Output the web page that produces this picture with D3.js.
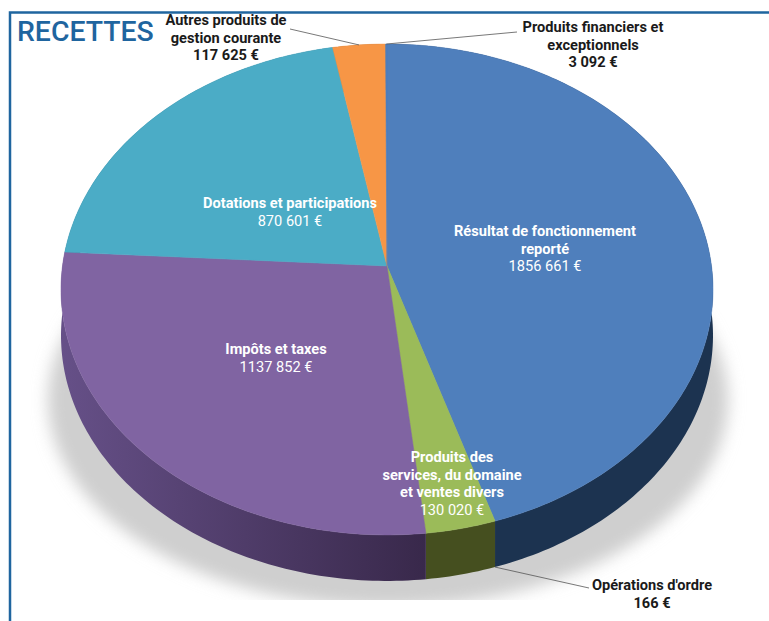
<!DOCTYPE html>
<html>
<head>
<meta charset="utf-8">
<script src="https://d3js.org/d3.v7.min.js"></script>
<style>
  html, body { margin: 0; padding: 0; background: #fff; }
  svg { display: block; }
  text { font-family: Roboto, sans-serif; }
</style>
</head>
<body>
<svg id="svg" width="769" height="621"></svg>
<script>
// --- DATA ---
const categories = ["Résultat de fonctionnement reporté", "Produits des services, du domaine et ventes divers", "Opérations d'ordre", "Impôts et taxes", "Dotations et participations", "Autres produits de gestion courante", "Produits financiers et exceptionnels"];
const values = [1856661, 130020, 166, 1137852, 870601, 117625, 3092];
const valueLabels = ["1856 661 €", "130 020 €", "166 €", "1137 852 €", "870 601 €", "117 625 €", "3 092 €"];
const topColors = ["#4f7fbc", "#9bbb59", "#9bbb59", "#8064a2", "#4bacc6", "#f79646", "#4f7fbc"];
const sideColors = ["#1c3350", "#454f1f", "#454f1f", "url(#side-purple)", "#2c6a7c", "#a05f28", "#1c3350"];
const labelLines = [
  ["Résultat de fonctionnement", "reporté"],
  ["Produits des", "services, du domaine", "et ventes divers"],
  ["Opérations d'ordre"],
  ["Impôts et taxes"],
  ["Dotations et participations"],
  ["Autres produits de", "gestion courante"],
  ["Produits financiers et", "exceptionnels"]
];

// --- CONFIGURATION ---
const WIDTH = 769, HEIGHT = 621;
const CX = 387, CY = 266;      // where the slices meet
const RX = 324.5, RY = 243.2;  // disc size on screen
const TILT = 0.0957;           // perspective, far edge looks smaller
const DEPTH = 46;
const BLUE = "#1f659f";

// label anchors: [x, first baseline y]
const labelPos = [[545, 236], [452, 462], [652, 590], [276, 354], [290, 208], [226, 25], [593, 32]];
const labelInside = [true, true, false, true, true, false, false];

const svg = d3.select("#svg");
const defs = svg.append("defs");

const grad = defs.append("linearGradient").attr("id", "side-purple")
  .attr("gradientUnits", "userSpaceOnUse")
  .attr("x1", 60).attr("x2", 430).attr("y1", 0).attr("y2", 0);
grad.append("stop").attr("offset", "0%").attr("stop-color", "#665088");
grad.append("stop").attr("offset", "100%").attr("stop-color", "#38284a");

defs.append("filter").attr("id", "blur")
  .attr("x", "-10%").attr("y", "-10%").attr("width", "120%").attr("height", "120%")
  .append("feGaussianBlur").attr("stdDeviation", 8);

defs.append("clipPath").attr("id", "shadow-clip")
  .append("rect").attr("x", 30).attr("y", 250).attr("width", 720).attr("height", 350);

// unit disc to screen, angle 0 at the top going clockwise
const sx = d3.scaleLinear().domain([-1, 1]).range([CX - RX, CX + RX]);
const sy = d3.scaleLinear().domain([-1, 1]).range([CY + RY, CY - RY]);
function project(a, r = 1) {
  const u = r * Math.sin(a), v = r * Math.cos(a);
  const w = 1 + TILT * v;
  return [sx(u / w), sy(v / w)];
}

function edgePoints(d) {
  const n = Math.max(2, Math.ceil((d.endAngle - d.startAngle) * 60));
  return d3.range(n + 1).map(i => project(d.startAngle + (d.endAngle - d.startAngle) * i / n));
}

const line = d3.line();
const arcs = d3.pie().sort(null).value(v => v)(values);

// --- SHADOW ---
svg.append("g").attr("clip-path", "url(#shadow-clip)")
  .append("ellipse")
  .attr("cx", 388).attr("cy", 400)
  .attr("rx", 340).attr("ry", 207)
  .attr("fill", "#cfcfcf")
  .attr("filter", "url(#blur)");

// --- SIDE WALL ---
svg.append("g").selectAll("path").data(arcs).enter().append("path")
  .attr("d", d => {
    const pts = edgePoints(d);
    const low = pts.slice().reverse().map(p => [p[0], p[1] + DEPTH]);
    return line(pts.concat(low)) + "Z";
  })
  .attr("fill", (d, i) => sideColors[i]);

// --- TOP FACE ---
svg.append("g").selectAll("path").data(arcs).enter().append("path")
  .attr("d", d => line([project(0, 0)].concat(edgePoints(d))) + "Z")
  .attr("fill", (d, i) => topColors[i])
  .attr("stroke", (d, i) => topColors[i])
  .attr("stroke-width", 0.5);

// --- LEADER LINES ---
// the label for the tiny slice hangs off the green/blue edge in the original
const leaderStart = [
  [[589, 588], project(arcs[1].startAngle), DEPTH],
  [[290, 29], project((arcs[5].startAngle + arcs[5].endAngle) / 2), 0],
  [[517, 32], project((arcs[6].startAngle + arcs[6].endAngle) / 2), 0]
];
leaderStart.forEach(([end, p, drop]) => {
  svg.append("path")
    .attr("d", line([end, [p[0], p[1] + drop]]))
    .attr("fill", "none").attr("stroke", "#555").attr("stroke-width", 0.8);
});

// --- LABELS ---
const labels = svg.append("g").selectAll("text").data(categories).enter().append("text")
  .attr("text-anchor", "middle")
  .attr("font-size", 14.6)
  .attr("fill", (d, i) => labelInside[i] ? "#fff" : "#1a1a1a");

labels.each(function (d, i) {
  const t = d3.select(this);
  labelLines[i].concat(valueLabels[i]).forEach((txt, j, all) => {
    t.append("tspan")
      .attr("x", labelPos[i][0])
      .attr("y", labelPos[i][1] + j * 17.7)
      .attr("font-weight", labelInside[i] && j === all.length - 1 ? 400 : 700)
      .text(txt);
  });
});

// --- FRAME AND TITLE ---
svg.append("path")
  .attr("d", line([[10, HEIGHT], [10, 12.5], [WIDTH, 12.5]]))
  .attr("fill", "none").attr("stroke", BLUE).attr("stroke-width", 2.5);

svg.append("text")
  .attr("x", 17).attr("y", 41)
  .attr("font-size", 28.4).attr("font-weight", 500)
  .attr("fill", BLUE)
  .text("RECETTES");
</script>
</body>
</html>
